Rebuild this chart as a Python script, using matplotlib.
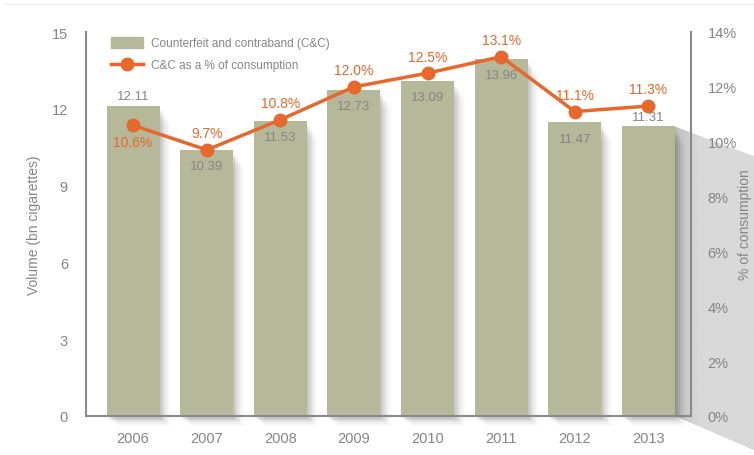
import numpy as np
import matplotlib.pyplot as plt
from matplotlib.patches import Polygon
from matplotlib.lines import Line2D
from matplotlib.colors import to_rgb

plt.rcParams['font.family'] = ['Liberation Sans', 'DejaVu Sans']

years = ["2006", "2007", "2008", "2009", "2010", "2011", "2012", "2013"]
volume = [12.11, 10.39, 11.53, 12.73, 13.09, 13.96, 11.47, 11.31]
share = [10.6, 9.7, 10.8, 12.0, 12.5, 13.1, 11.1, 11.3]
# where the % label sits relative to its marker
share_pos = ["below", "above", "above", "above", "above", "above", "above", "above"]
# where the volume label sits relative to the bar top
vol_pos = ["above", "inside", "inside", "inside", "inside", "inside", "inside", "above"]

BAR_C = "#b5b999"
LINE_C = "#e8672a"
TXT_C = "#858585"
SPINE_C = "#8a8a8a"

fig = plt.figure(figsize=(7.54, 4.56), dpi=100)
ax = fig.add_axes([86/754, 1 - 417/456, (691 - 86)/754, (417 - 33)/456])
x = np.arange(len(years))

# soft drop shadow behind each bar
for k, a in enumerate([0.06, 0.05, 0.045, 0.035, 0.025, 0.02, 0.015]):
    off = 0.02 + 0.022 * k
    ax.bar(x + off, np.array(volume) - 0.05 - 0.04 * k, width=0.72, bottom=-0.1 - 0.05 * k,
           color="#000000", alpha=a, zorder=1, linewidth=0, clip_on=False)
ax.bar(x, volume, width=0.72, color=BAR_C, zorder=2, linewidth=0)

ax.set_xlim(-0.64, 7.58)
ax.set_ylim(0, 15)
ax.set_yticks([0, 3, 6, 9, 12, 15])
ax.set_xticks(x)
ax.set_xticklabels(years)
ax.tick_params(length=0, labelsize=10.5, colors=TXT_C, pad=11)
ax.tick_params(axis="y", pad=13)
for s in ["top", "right"]:
    ax.spines[s].set_visible(False)
for s in ["left", "bottom"]:
    ax.spines[s].set_color(SPINE_C)
    ax.spines[s].set_linewidth(1.5)
    ax.spines[s].set_zorder(3)
ax.set_ylabel("Volume (bn cigarettes)", fontsize=10, color=TXT_C, labelpad=8)

for xi, v, p in zip(x, volume, vol_pos):
    if p == "above":
        ax.text(xi, v + 0.15, f"{v:.2f}", ha="center", va="bottom", fontsize=9.5, color=TXT_C, zorder=5)
    else:
        ax.text(xi, v - 0.4, f"{v:.2f}", ha="center", va="top", fontsize=9.5, color=TXT_C, zorder=5)

ax2 = ax.twinx()
ax2.set_ylim(0, 14)
ax2.set_yticks(range(0, 15, 2))
ax2.set_yticklabels([f"{t}%" for t in range(0, 15, 2)])
ax2.tick_params(length=0, labelsize=10.5, colors=TXT_C, pad=12)
for s in ["top", "left", "bottom"]:
    ax2.spines[s].set_visible(False)
ax2.spines["right"].set_color(SPINE_C)
ax2.spines["right"].set_linewidth(1.5)
ax2.set_ylabel("% of consumption", fontsize=10, color=TXT_C, labelpad=1)

ax2.plot(x, share, color=LINE_C, lw=2.5, marker="o", ms=9, zorder=4)
for xi, v, p in zip(x, share, share_pos):
    if p == "above":
        ax2.text(xi, v + 0.35, f"{v:.1f}%", ha="center", va="bottom", fontsize=10, color=LINE_C)
    else:
        ax2.text(xi, v - 0.35, f"{v:.1f}%", ha="center", va="top", fontsize=10, color=LINE_C)

# grey wedge fanning out from the last bar to the right edge
fig.canvas.draw()
to_fig = fig.transFigure.inverted()
right_edge = x[-1] + 0.36
tr = to_fig.transform(ax.transData.transform((right_edge, volume[-1])))
br = to_fig.transform(ax.transData.transform((right_edge, 0)))
poly_pts = [(tr[0], tr[1]), (1.0, tr[1] - 0.065), (1.0, br[1] - 0.075), (br[0], br[1])]
bg = fig.add_axes([0, 0, 1, 1], zorder=-1)
bg.set_xlim(0, 1)
bg.set_ylim(0, 1)
bg.axis("off")
t = np.linspace(0, 1, 256)
shade = np.clip(t / 0.3, 0, 1) ** 0.7
dark, light = np.array(to_rgb("#b9b9b9")), np.array(to_rgb("#d9d9d9"))
grad = (dark[None, :] * (1 - shade[:, None]) + light[None, :] * shade[:, None])[None, :, :]
im = bg.imshow(grad, extent=[tr[0], 1.0, 0, 1], aspect="auto", zorder=0)
clip = Polygon(poly_pts, closed=True, transform=bg.transData, facecolor="none", edgecolor="none")
bg.add_patch(clip)
im.set_clip_path(clip)
ax.set_zorder(1)
ax.patch.set_visible(False)
ax2.set_zorder(2)

# thin rule across the top
fig.add_artist(Line2D([0.008, 1.0], [1 - 5/456, 1 - 5/456], transform=fig.transFigure,
                      color="#eeeeee", lw=1))

handles = [
    plt.Rectangle((0, 0), 1, 1, color=BAR_C),
    Line2D([], [], color=LINE_C, lw=2.5, marker="o", ms=9),
]
ax2.legend(handles, ["Counterfeit and contraband (C&C)", "C&C as a % of consumption"],
           loc="upper left", bbox_to_anchor=(0.03, 1.005), frameon=False, fontsize=8.5,
           labelcolor=TXT_C, handlelength=2.7, handleheight=1.0, borderaxespad=0.2,
           labelspacing=0.8, handletextpad=0.7)

fig.savefig("out.png", dpi=100)
